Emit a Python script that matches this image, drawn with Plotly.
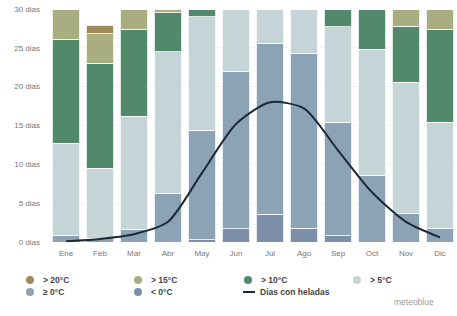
import plotly.graph_objects as go

months = ["Ene", "Feb", "Mar", "Abr", "May", "Jun", "Jul", "Ago", "Sep", "Oct", "Nov", "Dic"]
below0 = [0, 0, 0, 0, 0.3, 1.7, 3.6, 1.8, 0.8, 0, 0, 0]
above0 = [0.8, 0.5, 1.6, 6.3, 14.1, 20.2, 21.9, 22.5, 14.6, 8.6, 3.7, 1.7]
above5 = [11.9, 9.0, 14.6, 18.2, 14.6, 8.1, 4.5, 5.7, 12.3, 16.2, 16.9, 13.7]
above10 = [13.4, 13.5, 11.1, 5.0, 1.0, 0, 0, 0, 2.3, 5.2, 7.2, 12.0]
above15 = [3.9, 3.8, 2.7, 0.5, 0, 0, 0, 0, 0, 0, 2.2, 2.6]
above20 = [0, 1.1, 0, 0, 0, 0, 0, 0, 0, 0, 0, 0]
frost = [0.1, 0.4, 1.0, 2.6, 8.9, 15.2, 18.0, 17.2, 11.8, 6.4, 2.6, 0.6]

ytick_vals = [0, 5, 10, 15, 20, 25, 30]
ytick_text = ["0 dias", "5 dias", "10 dias", "15 dias", "20 dias", "25 dias", "30 dias"]

series = [
    ("< 0°C", below0, "#7c8fa8"),
    ("≥ 0°C", above0, "#8ca2b5"),
    ("> 5°C", above5, "#c5d4d7"),
    ("> 10°C", above10, "#52896a"),
    ("> 15°C", above15, "#a9ae80"),
    ("> 20°C", above20, "#a08a5a"),
]
line_name = "Dias con heladas"
line_color = "#1c2a36"

fig = go.Figure()
for name, vals, col in series:
    fig.add_trace(go.Bar(x=months, y=vals, name=name, marker_color=col,
                         marker_line_color="white", marker_line_width=0.8,
                         showlegend=False))

fig.add_trace(go.Scatter(x=months, y=frost, mode="lines", name=line_name,
                         line=dict(color=line_color, width=2, shape="spline", smoothing=0.7),
                         showlegend=False))

FW, FH = 457, 316
L, W, T, H = 49, 408, 9, 233
def px(x):
    return (x - L) / W
def py(y):
    return (T + H - y) / H

cmap = {n: c for n, _, c in series}
legend_items = [
    ("> 20°C", 30, 280), ("> 15°C", 138, 280), ("> 10°C", 248, 280), ("> 5°C", 357, 280),
    ("≥ 0°C", 30, 292), ("< 0°C", 138, 292),
]
shapes = []
annotations = []
for n, mx, my in legend_items:
    shapes.append(dict(type="circle", xref="paper", yref="paper", xsizemode="pixel",
                       ysizemode="pixel", xanchor=px(mx), yanchor=py(my),
                       x0=-4, x1=4, y0=-4, y1=4, fillcolor=cmap[n], line_width=0))
    annotations.append(dict(text="<b>" + n + "</b>", xref="paper", yref="paper",
                            x=px(mx + 11), y=py(my), xanchor="left", yanchor="middle",
                            showarrow=False, font=dict(size=8.5, color="#444")))
shapes.append(dict(type="line", xref="paper", yref="paper", x0=px(243), x1=px(255),
                   y0=py(292), y1=py(292), line=dict(color=line_color, width=2)))
annotations.append(dict(text="<b>" + line_name + "</b>", xref="paper", yref="paper",
                        x=px(258), y=py(292), xanchor="left", yanchor="middle",
                        showarrow=False, font=dict(size=8.5, color="#444")))
annotations.append(dict(text="meteoblue", xref="paper", yref="paper",
                        x=px(436), y=py(302), xanchor="right", yanchor="middle",
                        showarrow=False, font=dict(size=8.5, color="#999")))

fig.update_layout(
    width=FW, height=FH,
    margin=dict(l=L, r=FW - L - W, t=T, b=FH - T - H, autoexpand=False),
    barmode="stack", bargap=0.2,
    plot_bgcolor="white", paper_bgcolor="white",
    font=dict(family="Liberation Sans", size=9, color="#555"),
    xaxis=dict(showline=False, ticks="", tickfont=dict(size=8, color="#777"),
               showgrid=False, ticklabelstandoff=5),
    yaxis=dict(range=[0, 30], tickvals=ytick_vals, ticktext=ytick_text,
               tickfont=dict(size=8, color="#777"), showgrid=True,
               gridcolor="#f3f3f3", zeroline=False, ticks="", ticklabelstandoff=8,
               ticklabeloverflow="allow"),
    showlegend=False,
    shapes=shapes,
    annotations=annotations,
)

fig.write_html("out.html", config={"displayModeBar": False},
               post_script="document.body.style.margin='0';document.body.style.overflow='hidden';")
